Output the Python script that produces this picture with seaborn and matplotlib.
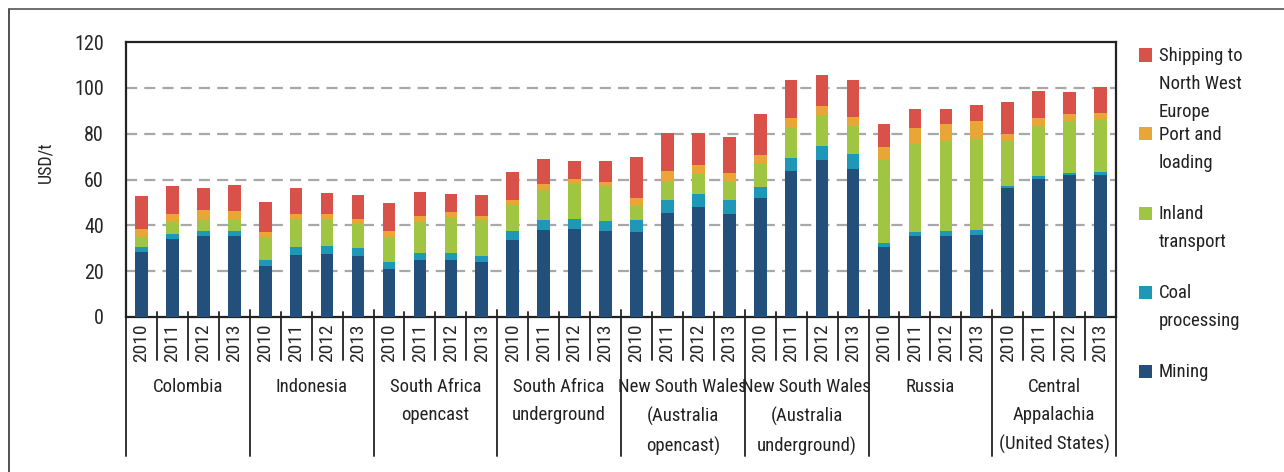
import matplotlib
matplotlib.use("Agg")
import matplotlib.pyplot as plt
from matplotlib import font_manager
import seaborn as sns
import pandas as pd
import numpy as np
from matplotlib.lines import Line2D
from matplotlib.patches import Rectangle
from matplotlib.transforms import blended_transform_factory

regions = ["Colombia", "Indonesia", "South Africa\nopencast", "South Africa\nunderground",
           "New South Wales\n(Australia\nopencast)", "New South Wales\n(Australia\nunderground)",
           "Russia", "Central\nAppalachia\n(United States)"]
years = ["2010", "2011", "2012", "2013"]

mining = [28.5, 34.2, 35.5, 35.2,  22.3, 27.1, 27.4, 26.8,  21.1, 25.0, 25.0, 23.9,
          33.8, 38.1, 38.6, 37.5,  37.2, 45.4, 48.0, 44.8,  52.1, 63.7, 68.4, 64.7,
          30.5, 35.2, 35.5, 35.8,  56.3, 60.4, 61.8, 62.1]
coal_processing = [2.2, 2.2, 2.2, 2.3,  2.6, 3.3, 3.5, 3.3,  2.8, 3.1, 3.1, 2.9,
                   3.7, 4.4, 4.3, 4.4,  5.0, 5.5, 5.8, 6.1,  4.5, 5.7, 6.1, 6.3,
                   1.9, 1.9, 1.9, 2.0,  1.0, 1.1, 1.0, 1.2]
inland_transport = [4.1, 5.1, 5.2, 5.0,  9.9, 11.8, 11.4, 10.6,  11.2, 13.4, 15.3, 15.4,
                    11.2, 13.1, 15.0, 15.1,  6.4, 8.4, 8.5, 7.9,  10.3, 13.2, 13.2, 12.4,
                    36.0, 38.3, 39.6, 40.0,  19.7, 22.0, 22.6, 22.5]
port_loading = [3.5, 3.6, 4.0, 3.8,  2.4, 2.6, 2.5, 2.2,  2.3, 2.4, 2.6, 2.0,
                2.2, 2.6, 2.3, 1.9,  3.5, 4.3, 4.2, 4.0,  3.7, 4.4, 4.2, 4.0,
                5.8, 6.9, 7.2, 7.6,  2.9, 3.3, 3.2, 3.4]
shipping = [14.5, 12.1, 9.4, 11.3,  13.1, 11.7, 9.3, 10.5,  12.4, 10.8, 7.8, 9.0,
            12.2, 10.6, 8.0, 9.2,  17.9, 16.6, 13.7, 15.9,  17.8, 16.6, 13.9, 15.9,
            10.2, 8.3, 6.7, 7.3,  13.9, 11.7, 9.7, 11.2]

series_names = ["Mining", "Coal\nprocessing", "Inland\ntransport", "Port and\nloading",
                "Shipping to\nNorth West\nEurope"]
series_values = [mining, coal_processing, inland_transport, port_loading, shipping]
colors = ["#22507a", "#1e98b6", "#9fc543", "#e8a637", "#d8524a"]

sns.set_theme(style="white")

# look for a condensed / narrow sans font
cond_family, cond_stretch = None, "normal"
prefs = ["Liberation Sans Narrow", "Roboto Condensed", "Open Sans Condensed", "DejaVu Sans",
         "Noto Sans", "Open Sans", "Roboto", "Noto Sans Display"]
cands = []
for f in font_manager.fontManager.ttflist:
    nm = f.name
    st = str(f.stretch).lower()
    isc = ("condensed" in st) or ("narrow" in nm.lower()) or ("condensed" in nm.lower())
    if isc and f.style == "normal" and f.weight in (400, "normal", "regular"):
        cands.append((nm, st))
for p in prefs:
    for nm, st in cands:
        if nm == p:
            cond_family, cond_stretch = nm, st
            break
    if cond_family:
        break
if cond_family is None and cands:
    cond_family, cond_stretch = cands[0]

if cond_family is not None:
    plt.rcParams["font.family"] = [cond_family, "DejaVu Sans"]
    plt.rcParams["font.stretch"] = cond_stretch if cond_stretch in (
        "ultra-condensed", "extra-condensed", "condensed", "semi-condensed") else "condensed"
    sc = 1.0
else:
    plt.rcParams["font.family"] = ["DejaVu Sans"]
    sc = 0.8

fs_tick = 14.5 * sc
fs_year = 14 * sc
fs_group = 13.5 * sc
fs_leg = 13.5 * sc
fs_ylab = 13 * sc

fig = plt.figure(figsize=(12.84, 4.72), dpi=100)
ax = fig.add_axes([126 / 1284, 155 / 472, 990 / 1284, 275 / 472])

n = len(regions) * len(years)
xlabels = years * len(regions)
rows = []
for s, vals in zip(series_names, series_values):
    for i, v in enumerate(vals):
        rows.append({"pos": i, "series": s, "value": v})
df = pd.DataFrame(rows)

bottom = np.zeros(n)
for s, c in zip(series_names, colors):
    sub = df[df["series"] == s].sort_values("pos")
    vals = sub["value"].to_numpy()
    ax.bar(sub["pos"], vals, bottom=bottom, width=0.41, color=c, edgecolor="none", zorder=3)
    bottom = bottom + vals

ax.set_xlim(-0.5, n - 0.5)
ax.set_ylim(0, 120)
ax.set_yticks([0, 20, 40, 60, 80, 100, 120])
ax.set_yticklabels(["0", "20", "40", "60", "80", "100", "120"], fontsize=fs_tick)
ax.tick_params(axis="y", length=0, pad=16)
ax.set_xticks(range(n))
ax.set_xticklabels(xlabels, rotation=90, fontsize=fs_year)
ax.tick_params(axis="x", length=0, pad=5)
ax.set_ylabel("USD/t", fontsize=fs_ylab)
ax.yaxis.set_label_coords(-0.072, 0.564)
ax.set_xlabel("")

for yv in [20, 40, 60, 80, 100]:
    ax.axhline(yv, color="#a8a8a8", linewidth=1.6, linestyle=(0, (5, 3.2)), zorder=1)

for sp in ax.spines.values():
    sp.set_color("#222222")
    sp.set_linewidth(1.6)

trans = blended_transform_factory(ax.transData, ax.transAxes)
for k in range(n + 1):
    xb = k - 0.5
    if k % 4 == 0:
        ax.add_line(Line2D([xb, xb], [0.025, -0.505], transform=trans, color="#333333",
                           linewidth=1.4, clip_on=False))
    else:
        ax.add_line(Line2D([xb, xb], [0.02, -0.157], transform=trans, color="#333333",
                           linewidth=1.4, clip_on=False))

for g, name in enumerate(regions):
    xc = g * 4 + 1.5
    ax.text(xc, -0.223, name, transform=trans, ha="center", va="top", fontsize=fs_group,
            linespacing=1.7, color="#222222")

# legend
legend_items = list(zip(series_names, colors))[::-1]
y0 = 55
for j, (name, c) in enumerate(legend_items):
    yc = y0 + j * 79
    fig.add_artist(Rectangle((1139 / 1284, 1 - (yc + 6.5) / 472), 13 / 1284, 13 / 472,
                             transform=fig.transFigure, facecolor=c, edgecolor="none"))
    fig.text(1159 / 1284, 1 - (yc - 8) / 472, name, ha="left", va="top", fontsize=fs_leg,
             linespacing=1.72, color="#222222")

# outer frame (left and top only)
fig.add_artist(Line2D([9 / 1284, 9 / 1284], [0, 1 - 9 / 472], transform=fig.transFigure,
                      color="#333333", linewidth=1.2))
fig.add_artist(Line2D([9 / 1284, 1], [1 - 9 / 472, 1 - 9 / 472], transform=fig.transFigure,
                      color="#555555", linewidth=1.2))

fig.savefig("out.png", dpi=100, facecolor="white")
